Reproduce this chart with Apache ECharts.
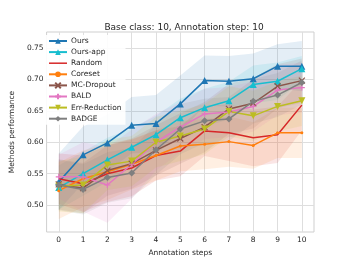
<!DOCTYPE html>
<html>
<head>
<meta charset="utf-8">
<script src="https://cdn.jsdelivr.net/npm/echarts@6/dist/echarts.min.js"></script>
<style>
html,body{margin:0;padding:0;background:#fff;}
#chart{width:349px;height:262px;}
</style>
</head>
<body>
<div id="chart"></div>
<script>
const steps = [0,1,2,3,4,5,6,7,8,9,10];
const tickY = [0.50,0.55,0.60,0.65,0.70,0.75];

const ours         = [0.537,0.580,0.599,0.627,0.630,0.661,0.698,0.697,0.701,0.721,0.721];
const oursApp      = [0.528,0.550,0.572,0.592,0.612,0.639,0.655,0.666,0.692,0.697,0.717];
const random       = [0.542,0.534,0.550,0.559,0.579,0.586,0.618,0.615,0.607,0.612,0.659];
const coreset      = [0.523,0.542,0.553,0.565,0.579,0.594,0.597,0.601,0.595,0.615,0.615];
const mcDropout    = [0.533,0.527,0.555,0.566,0.587,0.606,0.624,0.653,0.662,0.689,0.698];
const bald         = [0.545,0.545,0.532,0.565,0.600,0.624,0.645,0.648,0.657,0.683,0.687];
const errReduction = [0.530,0.532,0.564,0.570,0.600,0.610,0.621,0.649,0.642,0.657,0.666];
const badge        = [0.532,0.525,0.544,0.551,0.588,0.621,0.634,0.637,0.665,0.675,0.695];

const oursStd    = [0.045,0.045,0.045,0.045,0.045,0.045,0.040,0.040,0.040,0.035,0.040];
const oursAppStd = [0.035,0.035,0.035,0.030,0.030,0.030,0.030,0.030,0.030,0.030,0.020];
const randomStd  = [0.040,0.045,0.045,0.045,0.040,0.040,0.040,0.045,0.045,0.045,0.040];
const coresetStd = [0.045,0.045,0.045,0.040,0.040,0.040,0.040,0.040,0.037,0.040,0.040];
const mcStd      = [0.040,0.040,0.040,0.040,0.040,0.040,0.040,0.040,0.040,0.035,0.035];
const baldStd    = [0.035,0.055,0.060,0.055,0.045,0.040,0.040,0.040,0.040,0.040,0.040];
const errStd     = [0.040,0.045,0.040,0.040,0.040,0.040,0.040,0.040,0.040,0.040,0.040];
const badgeStd   = [0.040,0.040,0.040,0.040,0.040,0.040,0.035,0.035,0.035,0.035,0.035];

const names = ['Ours','Ours-app','Random','Coreset','MC-Dropout','BALD','Err-Reduction','BADGE'];
const colors = ['#1f77b4','#17becf','#d62728','#ff7f0e','#8c564b','#e377c2','#bcbd22','#7f7f7f'];
const means = [ours,oursApp,random,coreset,mcDropout,bald,errReduction,badge];
const stds = [oursStd,oursAppStd,randomStd,coresetStd,mcStd,baldStd,errStd,badgeStd];

const symbols = [
  {symbol:'triangle', size:7},
  {symbol:'triangle', size:7},
  {symbol:'none', size:0},
  {symbol:'circle', size:3},
  {symbol:'path://M0,0 L10,10 M10,0 L0,10', size:6, stroke:true},
  {symbol:'path://M5,0 L5,10 M0,5 L10,5', size:6, stroke:true},
  {symbol:'path://M0,0 L10,0 L5,9 Z', size:7},
  {symbol:'path://M5,0 L9,5 L5,10 L1,5 Z', size:7}
];

const series = [];
// std bands, drawn through the axes' coordinate mapping
means.forEach((m, i) => {
  const s = stds[i];
  const bandData = steps.map((x,k)=>[x, m[k]-s[k], m[k]+s[k]]);
  series.push({
    name: names[i] + ' band', type:'custom', silent:true, z:1,
    encode:{x:0, y:[1,2]},
    data: bandData,
    renderItem: (params, api) => {
      if (params.dataIndex !== 0) return null;
      const upper = bandData.map(d => api.coord([d[0], d[2]]));
      const lower = bandData.map(d => api.coord([d[0], d[1]])).reverse();
      const cs = params.coordSys;
      return {
        type:'group',
        clipPath:{type:'rect', shape:{x:cs.x, y:cs.y, width:cs.width, height:cs.height}},
        children:[{
          type:'polygon',
          shape:{points: upper.concat(lower)},
          style:{fill: colors[i], opacity:0.12}
        }]
      };
    }
  });
});
// mean lines
means.forEach((m, i) => {
  const sy = symbols[i];
  series.push({
    name: names[i], type:'line', z:5,
    symbol: sy.symbol, symbolSize: sy.size, showSymbol: sy.symbol !== 'none',
    lineStyle:{color:colors[i], width:1.5},
    itemStyle: sy.stroke ? {color:colors[i], borderColor:colors[i], borderWidth:1.2} : {color:colors[i]},
    data: steps.map((x,k)=>[x, m[k]])
  });
});

const legendData = names.map(n => n === 'Random'
  ? {name:n, icon:'path://M0,0 L18,0 L18,1.5 L0,1.5 Z'}
  : {name:n});

const chart = echarts.init(document.getElementById('chart'), null, {renderer:'canvas'});
const font = 'DejaVu Sans';
chart.setOption({
  animation:false,
  backgroundColor:'#ffffff',
  textStyle:{fontFamily:font},
  title:{
    text:'Base class: 10, Annotation step: 10',
    left:179, top:18, textAlign:'center',
    textStyle:{fontFamily:font, fontSize:9, fontWeight:'normal', color:'#262626'}
  },
  grid:{left:43, right:35, top:32, bottom:30, show:true, borderColor:'#cfcfcf', borderWidth:1},
  legend:{
    data:legendData, orient:'vertical', left:46, top:35,
    itemWidth:18, itemHeight:7, itemGap:3.1,
    backgroundColor:'rgba(255,255,255,0.9)', padding:[2,4,2,2],
    textStyle:{fontFamily:font, fontSize:7.5, color:'#262626', padding:[0,0,0,-1]}
  },
  xAxis:{
    type:'value', min:-0.5, max:10.5,
    name:'Annotation steps', nameLocation:'middle', nameGap:13,
    nameTextStyle:{fontFamily:font, fontSize:7.5, color:'#262626'},
    axisLine:{show:false}, axisTick:{show:false, customValues:steps},
    axisLabel:{customValues:steps, fontFamily:font, fontSize:7.5, color:'#262626', margin:4},
    splitLine:{show:true, lineStyle:{color:'#dedede', width:1}}
  },
  yAxis:{
    type:'value', min:0.4573, max:0.7753,
    name:'Methods performance', nameLocation:'middle', nameGap:24,
    nameTextStyle:{fontFamily:font, fontSize:7.5, color:'#262626'},
    axisLine:{show:false}, axisTick:{show:false, customValues:tickY},
    axisLabel:{customValues:tickY, fontFamily:font, fontSize:7.5, color:'#262626', margin:3,
      formatter:v=>v.toFixed(2)},
    splitLine:{show:true, lineStyle:{color:'#dedede', width:1}}
  },
  series: series
});
</script>
</body>
</html>
